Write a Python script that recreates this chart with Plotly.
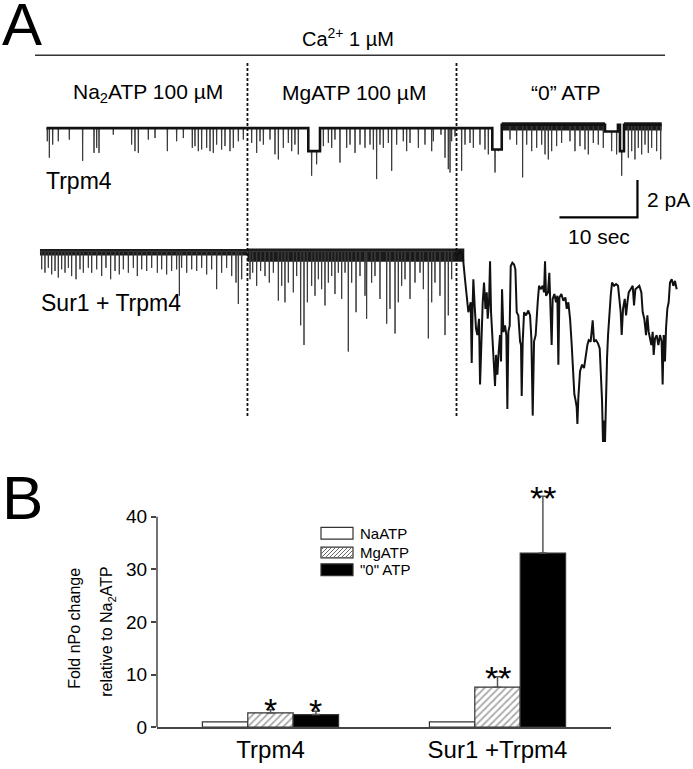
import plotly.graph_objects as go

# ---------------- Panel A: single-channel recordings (time in s, current in pA) ----------------
# Trpm4 alone: brief downward openings (time, absolute current)
trpm4_spike_t = [0.04, 0.3, 0.73, 1.45, 2.86, 4.57, 6.03, 6.37, 6.67, 8.5,
                 10.85, 11.28, 11.71, 12.99, 13.85, 15.43, 16.62, 17.48, 18.63, 18.97,
                 19.4, 19.83, 20.47, 20.9, 21.32, 21.75, 22.39, 22.82, 23.46, 23.89,
                 24.53, 25.17, 26.24, 26.88, 27.31, 27.74, 28.59, 29.23, 29.66, 30.3,
                 30.94, 31.37, 31.79, 32.22, 33.93, 34.57, 35.43, 36.07, 36.5, 36.92,
                 37.56, 38.42, 38.85, 39.49, 40.13, 40.77, 41.41, 41.84, 42.26, 42.69,
                 43.12, 43.76, 44.19, 44.83, 45.68, 46.11, 46.54, 47.61, 48.46, 49.32,
                 49.53, 50.51, 51.03, 51.45, 51.67, 51.88, 52.31, 53.16, 53.59, 54.23,
                 54.66, 55.51, 56.15, 56.58, 57.44, 57.86, 59.36, 60.21, 60.98, 61.5,
                 62.14, 62.78, 63.42, 63.85, 64.27, 64.7, 65.34, 65.98, 67.05, 67.69,
                 68.33, 68.97, 69.4, 70.04, 70.68, 71.32, 72.39, 73.03, 73.68, 74.53,
                 74.96, 75.38, 75.81, 76.24, 76.67, 77.09, 77.52, 78.16, 78.68]
trpm4_spike_i = [-0.70, -1.58, -0.88, -0.70, -0.61, -1.75, -1.32, -1.05, -1.32, -0.35,
                 -0.88, -1.23, -1.32, -0.61, -0.53, -1.23, -0.70, -0.53, -1.05, -0.96,
                 -1.23, -1.14, -1.05, -1.23, -1.32, -0.88, -1.14, -0.96, -1.23, -1.05,
                 -0.70, -0.61, -0.79, -1.32, -0.70, -0.88, -0.61, -1.40, -1.67, -1.05,
                 -0.79, -1.23, -0.88, -1.40, -2.54, -1.93, -0.96, -0.79, -1.05, -0.61,
                 -1.84, -1.05, -0.88, -1.32, -0.88, -1.05, -0.88, -1.14, -2.72, -0.88,
                 -1.05, -0.79, -2.28, -0.88, -0.70, -1.23, -0.79, -1.05, -0.88, -1.23,
                 -0.70, -0.35, -1.58, -2.19, -2.37, -0.70, -0.44, -2.28, -0.88, -0.79,
                 -1.05, -0.88, -1.14, -1.40, -2.37, -1.23, -0.61, -0.88, -2.63, -0.88,
                 -1.23, -1.05, -0.88, -1.40, -1.67, -1.23, -0.96, -0.79, -0.70, -1.23,
                 -0.96, -1.14, -1.40, -0.79, -0.88, -1.05, -1.23, -1.40, -2.54, -1.58,
                 -1.23, -1.67, -1.05, -1.40, -0.88, -1.32, -1.05, -1.23, -1.67]
# closed (baseline) level changes
trpm4_level_t = [-0.1, 33.5, 35.0, 57.09, 58.3, 71.54, 73.2, 73.46, 73.97]
trpm4_level_i = [0.0, -1.23, 0.0, -1.14, 0.18, -0.18, 0.18, -1.23, 0.18]
trpm4_end_t = 78.8
# dense flicker bands (t_start, t_end, top, bottom)
trpm4_flicker = [(58.3, 71.54, 0.32, -0.12), (73.97, 78.8, 0.32, -0.12)]

# Sur1 + Trpm4: openings during Na2ATP / MgATP
sur1_spike_t = [-0.68, -0.26, 0.17, 0.6, 1.03, 1.45, 1.88, 2.31, 2.74, 3.16,
                3.72, 4.23, 4.66, 5.3, 5.73, 6.37, 7.01, 7.56, 8.16, 8.72,
                9.27, 9.79, 10.43, 11.07, 11.58, 12.14, 12.78, 13.42, 14.15, 14.7,
                15.34, 15.98, 16.62, 16.97, 17.26, 17.91, 18.55, 19.19, 19.83, 20.47,
                21.11, 21.75, 22.39, 23.03, 23.68, 24.23, 24.53, 24.96, 26.03, 26.37,
                26.88, 27.39, 27.95, 28.5, 29.02, 29.66, 30.09, 30.51, 30.94, 31.58,
                32.01, 32.52, 32.95, 33.38, 33.93, 34.36, 34.79, 35.21, 35.64, 36.07,
                36.5, 36.92, 37.35, 37.78, 38.21, 38.63, 39.06, 39.62, 40.13, 40.77,
                40.98, 41.62, 42.05, 42.69, 43.55, 43.97, 44.62, 45.04, 45.47, 45.9,
                46.54, 47.18, 47.82, 48.25, 48.89, 49.32, 49.74, 50.38, 51.03, 51.45,
                51.88]
sur1_spike_i = [-0.96, -1.14, -0.88, -1.23, -1.05, -1.40, -0.96, -1.14, -0.88, -1.32,
                -1.49, -0.96, -1.14, -0.88, -1.14, -0.96, -1.32, -0.88, -1.49, -1.05,
                -1.23, -0.96, -1.14, -0.88, -1.32, -0.96, -1.05, -0.88, -1.14, -0.96,
                -1.23, -1.05, -0.96, -2.37, -0.88, -1.14, -0.96, -1.05, -0.88, -1.23,
                -0.96, -2.02, -1.14, -0.88, -1.32, -1.67, -2.81, -1.49, -1.49, -1.14,
                -1.84, -1.05, -1.32, -1.67, -1.14, -2.63, -1.84, -2.72, -1.67, -2.19,
                -1.32, -3.95, -5.00, -2.72, -1.84, -2.37, -1.49, -2.02, -2.89, -1.67,
                -1.32, -2.28, -1.14, -2.54, -1.14, -5.35, -1.67, -3.25, -1.32, -2.37,
                -3.60, -1.67, -1.32, -2.54, -3.86, -3.07, -4.39, -2.72, -1.84, -1.49,
                -2.54, -1.67, -1.14, -2.02, -4.65, -2.72, -1.67, -2.37, -4.47, -3.42,
                -1.49]
sur1_start_t = -0.9
sur1_flicker = [(-0.9, 25.7, 0.12, -0.22), (25.7, 53.5, 0.15, -0.55)]
# Sur1 + Trpm4 in "0" ATP: sustained multi-channel openings
sur1_path_t = [52.31, 52.61, 52.95, 53.29, 53.59, 53.81, 54.02, 54.32, 54.45, 54.58,
               54.66, 54.83, 55.0, 55.18, 55.39, 55.52, 55.69, 55.86, 56.03, 56.21,
               56.38, 56.5, 56.67, 56.8, 56.93, 57.14, 57.31, 57.44, 57.57, 57.74,
               57.91, 58.08, 58.21, 58.34, 58.51, 58.72, 58.89, 59.02, 59.15, 59.32,
               59.45, 59.66, 59.88, 60.05, 60.22, 60.43, 60.65, 60.77, 60.86, 60.99,
               61.16, 61.41, 61.71, 61.93, 62.1, 62.27, 62.44, 62.65, 62.91, 63.08,
               63.29, 63.55, 63.72, 63.85, 63.98, 64.23, 64.4, 64.53, 64.7, 64.83,
               65.05, 65.26, 65.43, 65.56, 65.69, 65.94, 66.2, 66.46, 66.63, 66.84,
               67.06, 67.27, 67.44, 67.61, 67.78, 67.91, 68.0, 68.12, 68.34, 68.6,
               68.85, 69.06, 69.28, 69.45, 69.7, 69.96, 70.13, 70.39, 70.64, 70.86,
               71.03, 71.16, 71.28, 71.41, 71.54, 71.67, 71.8, 71.93, 72.1, 72.27,
               72.44, 72.7, 72.96, 73.21, 73.38, 73.55, 73.68, 73.85, 74.07, 74.24,
               74.41, 74.58, 74.83, 75.09, 75.26, 75.43, 75.69, 75.94, 76.2, 76.37,
               76.58, 76.8, 76.97, 77.14, 77.31, 77.48, 77.65, 77.78, 77.95, 78.16,
               78.38, 78.59, 78.8, 78.93, 79.06, 79.23, 79.36, 79.53, 79.7, 79.87,
               80.09, 80.3, 80.51, 80.73]
sur1_path_i = [-0.09, -0.26, 0.0, -0.18, -1.49, -2.37, -3.25, -2.72, -5.96, -2.72,
               -1.49, -2.89, -4.12, -4.47, -3.60, -7.11, -4.12, -2.72, -1.67, -3.07,
               -2.19, -3.60, -2.72, -0.53, -3.25, -5.18, -5.88, -7.19, -5.53, -6.58,
               -5.35, -4.47, -5.88, -2.02, -4.30, -3.95, -4.47, -8.42, -4.30, -3.95,
               -0.79, -0.61, -0.70, -0.96, -3.25, -3.42, -4.82, -5.00, -7.72, -4.82,
               -3.25, -3.42, -3.16, -3.42, -4.65, -8.77, -4.82, -4.47, -2.72, -1.84,
               -2.02, -1.84, -2.19, -0.53, -2.37, -2.19, -1.14, -2.54, -5.00, -2.54,
               -2.28, -2.72, -2.37, -6.05, -2.46, -2.28, -2.63, -2.46, -3.07, -2.72,
               -3.60, -5.00, -6.23, -7.63, -7.98, -8.33, -9.21, -7.81, -6.40, -6.05,
               -6.23, -5.53, -5.00, -4.74, -4.82, -3.68, -4.82, -4.74, -4.91, -5.18,
               -6.58, -7.98, -10.18, -9.04, -10.18, -7.46, -5.70, -4.47, -3.25, -2.37,
               -1.67, -1.84, -1.75, -1.84, -2.54, -3.25, -4.47, -3.07, -2.54, -3.42,
               -2.72, -2.19, -2.02, -1.84, -2.89, -2.02, -1.93, -1.84, -2.19, -3.25,
               -3.60, -4.47, -3.42, -4.30, -4.65, -5.00, -4.30, -5.53, -4.65, -4.47,
               -5.00, -4.47, -4.82, -7.11, -4.47, -5.88, -4.12, -3.07, -2.72, -1.67,
               -1.49, -1.84, -1.58, -2.02]

solution_change_t = [25.7, 52.5]     # Na2ATP -> MgATP -> "0" ATP
solution_labels = ["Na<sub>2</sub>ATP 100 µM", "MgATP 100 µM", "\u201c0\u201d ATP"]
scale_time_s = 10
scale_current_pa = 2

# ---------------- Panel B: fold nPo change ----------------
groups = ["Trpm4", "Sur1 +Trpm4"]
conditions = ["NaATP", "MgATP", '"0" ATP']
na_atp = [1.0, 1.0]
mg_atp = [2.7, 7.6]
mg_atp_err = [0.6, 2.0]
zero_atp = [2.4, 33.1]
zero_atp_err = [0.6, 10.8]
mg_stars = ["*", "**"]
zero_stars = ["*", "**"]

assert len(trpm4_spike_t) == len(trpm4_spike_i)
assert len(sur1_spike_t) == len(sur1_spike_i)
assert len(sur1_path_t) == len(sur1_path_i)

FONT = "Arial, Liberation Sans, sans-serif"
W, H = 693, 769


def px(x):
    return x / W


def py(y):
    return 1 - y / H


def base_level(t, level_t, level_i):
    b = level_i[0]
    for lt, li in zip(level_t, level_i):
        if lt <= t:
            b = li
    return b


def build_trace(t0, t1, spike_t, spike_i, level_t, level_i, half=0.035):
    events = [(t, "step", i) for t, i in zip(level_t[1:], level_i[1:])]
    events += [(t, "spike", i) for t, i in zip(spike_t, spike_i)]
    events.sort(key=lambda e: e[0])
    xs, ys = [t0], [base_level(t0, level_t, level_i)]
    for t, kind, val in events:
        if kind == "step":
            xs += [t, t]
            ys += [ys[-1], val]
        else:
            b = base_level(t, level_t, level_i)
            xs += [t - half, t, t + half]
            ys += [b, val, b]
    xs.append(t1)
    ys.append(base_level(t1, level_t, level_i))
    return xs, ys


def build_levels(t0, t1, level_t, level_i):
    xs, ys = [t0], [base_level(t0, level_t, level_i)]
    for t, v in zip(level_t[1:], level_i[1:]):
        xs += [t, t]
        ys += [ys[-1], v]
    xs.append(t1)
    ys.append(ys[-1])
    return xs, ys


fig = go.Figure()


def add_band(bands, yaxis):
    for t0, t1, top, bot in bands:
        fig.add_trace(go.Scatter(x=[t0, t1, t1, t0, t0], y=[top, top, bot, bot, top],
                                 mode="lines", fill="toself", fillcolor="#1a1a1a",
                                 line=dict(width=0), xaxis="x2", yaxis=yaxis,
                                 showlegend=False, hoverinfo="skip"))


# Trpm4 trace
add_band(trpm4_flicker, "y2")
tx, ty = build_trace(trpm4_spike_t[0] - 0.1, trpm4_end_t, trpm4_spike_t, trpm4_spike_i,
                     trpm4_level_t, trpm4_level_i)
fig.add_trace(go.Scatter(x=tx, y=ty, mode="lines", xaxis="x2", yaxis="y2",
                         line=dict(color="#3a3a3a", width=1), showlegend=False,
                         hoverinfo="skip"))
bx, by = build_levels(trpm4_spike_t[0] - 0.1, trpm4_end_t, trpm4_level_t, trpm4_level_i)
fig.add_trace(go.Scatter(x=bx, y=by, mode="lines", xaxis="x2", yaxis="y2",
                         line=dict(color="#111", width=2.6), showlegend=False,
                         hoverinfo="skip"))

# Sur1 + Trpm4 trace
add_band(sur1_flicker, "y3")
sx, sy = build_trace(sur1_start_t, sur1_path_t[0], sur1_spike_t, sur1_spike_i, [-10], [0.0])
fig.add_trace(go.Scatter(x=sx, y=sy, mode="lines", xaxis="x2", yaxis="y3",
                         line=dict(color="#3a3a3a", width=1), showlegend=False,
                         hoverinfo="skip"))
fig.add_trace(go.Scatter(x=sur1_path_t, y=sur1_path_i, mode="lines", xaxis="x2", yaxis="y3",
                         line=dict(color="#111", width=2), showlegend=False,
                         hoverinfo="skip"))

# bars
bar_line = dict(color="#333", width=1.2)
hatch = dict(shape="/", fgcolor="#555", bgcolor="white", size=5, solidity=0.35)
fig.add_trace(go.Bar(x=groups, y=na_atp, name=conditions[0], showlegend=False,
                     marker=dict(color="white", line=bar_line)))
fig.add_trace(go.Bar(x=groups, y=mg_atp, name=conditions[1], showlegend=False,
                     marker=dict(color="white", line=bar_line, pattern=hatch),
                     error_y=dict(type="data", array=mg_atp_err, arrayminus=[0, 0],
                                  symmetric=False, color="#555", thickness=1.5, width=4)))
fig.add_trace(go.Bar(x=groups, y=zero_atp, name=conditions[2], showlegend=False,
                     marker=dict(color="black", line=bar_line),
                     error_y=dict(type="data", array=zero_atp_err, arrayminus=[0, 0],
                                  symmetric=False, color="#555", thickness=1.5, width=4)))

annotations = []
bar_w = 0.2
for i in range(len(groups)):
    annotations.append(dict(x=i, y=mg_atp[i] + mg_atp_err[i], xref="x", yref="y",
                            text=mg_stars[i], yanchor="middle", yshift=-1 if i else 0,
                            font=dict(size=34, color="black", family=FONT)))
    annotations.append(dict(x=i + bar_w, y=zero_atp[i] + zero_atp_err[i], xref="x", yref="y",
                            text=zero_stars[i], yanchor="middle", yshift=-2 if i else 0,
                            font=dict(size=34, color="black", family=FONT)))

# panel labels and text
annotations += [
    dict(x=px(0), y=py(25), text="A", font=dict(size=60, family=FONT, color="black"),
         xanchor="left", yanchor="middle"),
    dict(x=px(0), y=py(505), text="B", font=dict(size=62, family=FONT, color="black"),
         xanchor="left", yanchor="middle"),
    dict(x=px(348), y=py(38), text="Ca<sup>2+</sup> 1 µM",
         font=dict(size=20, family=FONT, color="black"), xanchor="center", yanchor="middle"),
    dict(x=px(148), y=py(94), text=solution_labels[0],
         font=dict(size=21, family=FONT, color="black"), xanchor="center", yanchor="middle"),
    dict(x=px(354), y=py(94), text=solution_labels[1],
         font=dict(size=21, family=FONT, color="black"), xanchor="center", yanchor="middle"),
    dict(x=px(566), y=py(94), text=solution_labels[2],
         font=dict(size=21, family=FONT, color="black"), xanchor="center", yanchor="middle"),
    dict(x=px(44), y=py(184), text="Trpm4", font=dict(size=23, family=FONT, color="black"),
         xanchor="left", yanchor="middle"),
    dict(x=px(39), y=py(307), text="Sur1 + Trpm4", font=dict(size=23, family=FONT, color="black"),
         xanchor="left", yanchor="middle"),
    dict(x=px(645), y=py(202), text=f"{scale_current_pa} pA",
         font=dict(size=21, family=FONT, color="black"), xanchor="left", yanchor="middle"),
    dict(x=px(599), y=py(240), text=f"{scale_time_s} sec",
         font=dict(size=21, family=FONT, color="black"), xanchor="center", yanchor="middle"),
    dict(x=px(75), y=py(638), text="Fold nPo change", textangle=-90,
         font=dict(size=16, family=FONT, color="black"), xanchor="center", yanchor="middle"),
    dict(x=px(108), y=py(641), text="relative to Na<sub>2</sub>ATP", textangle=-90,
         font=dict(size=16, family=FONT, color="black"), xanchor="center", yanchor="middle"),
]

shapes = [
    # Ca2+ bar
    dict(type="line", xref="paper", yref="paper", x0=px(35), x1=px(665), y0=py(56), y1=py(56),
         line=dict(color="#333", width=1.5)),
]
for t in solution_change_t:
    shapes.append(dict(type="line", xref="x2", yref="paper", x0=t, x1=t, y0=py(64), y1=py(423),
                       line=dict(color="#111", width=1.8, dash="3px,2px")))
# scale bar (corner at lower right)
sb_t, sb_i = 75.7, -4.77
shapes.append(dict(type="path", xref="x2", yref="y2",
                   path=f"M {sb_t - scale_time_s},{sb_i} L {sb_t},{sb_i} L {sb_t},{sb_i + scale_current_pa}",
                   line=dict(color="black", width=2.2)))
# panel B y axis line (0..40)
shapes.append(dict(type="line", xref="x domain", yref="y", x0=0, x1=0, y0=0, y1=40,
                   line=dict(color="#444", width=1.5)))

# legend drawn as key boxes with labels
key_x0, key_x1 = 321, 353
key_rows = [(535, 547), (555, 566), (572, 584)]
key_fill = ["white", "white", "black"]
for (y0, y1), fill, label in zip(key_rows, key_fill, conditions):
    shapes.append(dict(type="rect", xref="paper", yref="paper",
                       x0=px(key_x0), x1=px(key_x1), y0=py(y1), y1=py(y0),
                       fillcolor=fill, line=dict(color="#333", width=1.2)))
    annotations.append(dict(x=px(358), y=py((y0 + y1) / 2), text=label, xanchor="left",
                            yanchor="middle", font=dict(size=15, family=FONT, color="black")))
# hatching of the MgATP key
hy0, hy1 = key_rows[1]
hpath = []
for k in range(-12, 33, 4):
    xa, ya = key_x0 + k, hy1
    xb, yb = xa + (hy1 - hy0), hy0
    if xa < key_x0:
        ya -= key_x0 - xa
        xa = key_x0
    if xb > key_x1:
        yb += xb - key_x1
        xb = key_x1
    if xb > xa:
        hpath.append(f"M {px(xa)},{py(ya)} L {px(xb)},{py(yb)}")
shapes.append(dict(type="path", xref="paper", yref="paper", path=" ".join(hpath),
                   line=dict(color="#666", width=1)))

for a in annotations:
    a.setdefault("xref", "paper")
    a.setdefault("yref", "paper")
    a.setdefault("showarrow", False)

fig.update_layout(
    width=W, height=H, margin=dict(l=0, r=0, t=0, b=0),
    paper_bgcolor="white", plot_bgcolor="rgba(0,0,0,0)",
    font=dict(family=FONT, color="black"),
    barmode="group", bargap=0.4, bargroupgap=0,
    showlegend=False,
    xaxis=dict(domain=[px(157), px(611)], anchor="y", type="category",
               categoryorder="array", categoryarray=groups, range=[-0.5, 1.5],
               showline=True, linecolor="#444", linewidth=1.5, ticks="",
               showgrid=False, zeroline=False,
               tickfont=dict(size=24, family=FONT, color="black")),
    yaxis=dict(domain=[py(737.7), py(492.3)], anchor="x", range=[0, 46],
               tickvals=[0, 10, 20, 30, 40], ticks="outside", ticklen=5, tickwidth=1.5,
               tickcolor="#444", showline=False, showgrid=False, zeroline=False,
               tickfont=dict(size=19, family=FONT, color="black")),
    xaxis2=dict(domain=[0, 1], anchor="y2", range=[-47 / 7.8, 646 / 7.8], visible=False),
    yaxis2=dict(domain=[py(225), py(60)], anchor="x2", range=[-5.0, 3.684], visible=False),
    yaxis3=dict(domain=[py(460), py(226)], anchor="x2", range=[-10.789, 1.526], visible=False),
    annotations=annotations,
    shapes=shapes,
)

fig.write_html("out.html", config={"displayModeBar": False},
               post_script="document.body.style.margin='0';")
